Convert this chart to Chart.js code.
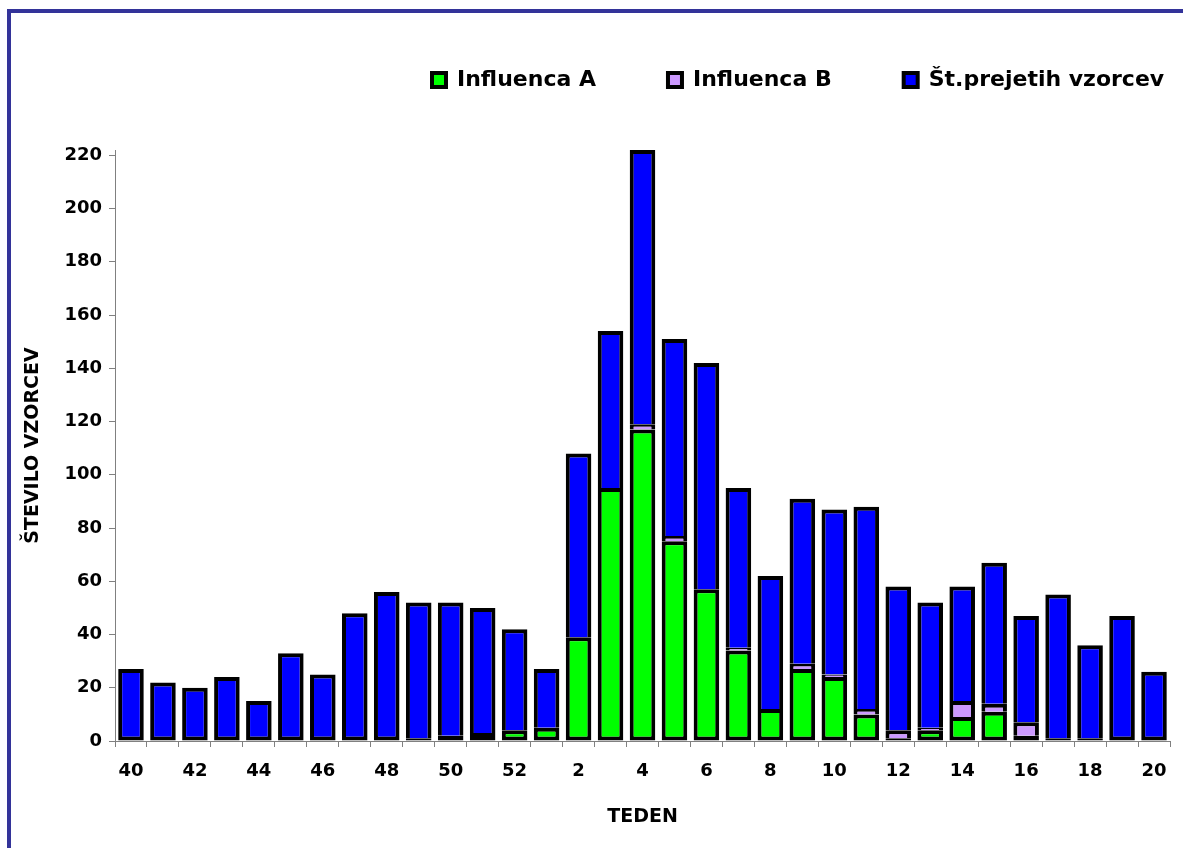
<!DOCTYPE html>
<html>
<head>
<meta charset="utf-8">
<script src="https://cdn.jsdelivr.net/npm/chart.js@4/dist/chart.umd.min.js"></script>
<style>
  html, body { margin: 0; padding: 0; background: #fff; overflow: hidden; }
  #frame { position: absolute; left: 7px; top: 9px; width: 1300px; height: 1000px;
           border-left: 4px solid #333399; border-top: 4px solid #333399; }
  #c { position: absolute; left: 0; top: 0; }
</style>
</head>
<body>
<div id="frame"></div>
<canvas id="c" width="1183" height="848"></canvas>
<script>
// ---- data ----
const weeks = [40,41,42,43,44,45,46,47,48,49,50,51,52,1,2,3,4,5,6,7,8,9,10,11,12,13,14,15,16,17,18,19,20];
const influencaA = [0,0,0,0,0,0,0,0,0,1,2,3,4,5,39,95,117,75,57,34,12,27,24,10,1,4,9,11,2,1,1,0,0];
const influencaB = [0,0,0,0,0,0,0,0,0,0,0,0,0,0,0,0,2,2,0,1,0,2,1,2,3,1,6,3,5,0,0,0,0];
const prejetiVzorci = [27,22,20,24,15,33,25,48,56,52,52,50,42,27,108,154,222,151,142,95,62,91,87,88,58,52,58,67,47,55,36,47,26];
const yTicks = [0,20,40,60,80,100,120,140,160,180,200,220];
const seriesNames = ['Influenca A','Influenca B','Št.prejetih vzorcev'];

// remaining part of the total stacked above A and B
const blueSegment = prejetiVzorci.map((t, i) => t - influencaA[i] - influencaB[i]);

const BW = 4;
function bw(below) {
  return function(ctx) {
    if (ctx.dataIndex === undefined) return BW;
    const i = ctx.dataIndex;
    const hasBelow = below.some(arr => arr[i] > 0);
    return {top: BW, left: BW, right: BW, bottom: hasBelow ? 0 : BW};
  };
}

const bold = '"DejaVu Sans", Verdana, sans-serif';
const LEG_PAD = 72;
const LEG_FONT = 22;

const legendMover = {
  id: 'legendMover',
  afterLayout(chart) {
    const lg = chart.legend;
    lg.left = 432 - LEG_PAD;
    lg.right = 1500;
    lg.top = 80 - LEG_FONT / 2 - LEG_PAD;
  }
};

new Chart(document.getElementById('c'), {
  type: 'bar',
  data: {
    labels: weeks.map(String),
    datasets: [
      { label: seriesNames[0], data: influencaA, backgroundColor: '#00FF00', borderColor: '#000',
        borderWidth: bw([]), borderSkipped: false },
      { label: seriesNames[1], data: influencaB, backgroundColor: '#CC99FF', borderColor: '#000',
        borderWidth: bw([influencaA]), borderSkipped: false },
      { label: seriesNames[2], data: blueSegment, backgroundColor: '#0000FF', borderColor: '#000',
        borderWidth: bw([influencaA, influencaB]), borderSkipped: false }
    ]
  },
  options: {
    responsive: false,
    animation: false,
    devicePixelRatio: 1,
    datasets: { bar: { categoryPercentage: 1.0, barPercentage: 0.8 } },
    layout: { padding: { top: 150 - (LEG_FONT + LEG_PAD + 10), right: 13, left: 0, bottom: 0 } },
    plugins: {
      tooltip: { enabled: false },
      legend: {
        position: 'top',
        align: 'start',
        labels: {
          color: '#000',
          font: { family: bold, size: LEG_FONT, weight: 'bold' },
          boxWidth: 14, boxHeight: 14, padding: LEG_PAD
        }
      }
    },
    scales: {
      x: {
        stacked: true,
        grid: { offset: true, drawOnChartArea: false, drawTicks: true, tickLength: 6, color: '#808080', tickColor: '#808080' },
        border: { color: '#808080', width: 1 },
        ticks: {
          autoSkip: false, maxRotation: 0, minRotation: 0, padding: 14, color: '#000',
          font: { family: bold, size: 18, weight: 'bold' },
          callback: (v, i) => (i % 2 === 0 ? String(weeks[i]) : '')
        },
        title: { display: true, text: 'TEDEN', color: '#000',
                 font: { family: bold, size: 19, weight: 'bold' }, padding: { top: 0, bottom: 19.5 } },
        afterFit: s => { s.height = 107; }
      },
      y: {
        stacked: true,
        min: 0, max: 222,
        grid: { drawOnChartArea: false, drawTicks: true, tickLength: 6, color: '#808080', tickColor: '#808080' },
        border: { color: '#808080', width: 1 },
        ticks: { stepSize: 20, padding: 7, color: '#000', font: { family: bold, size: 18, weight: 'bold' } },
        afterBuildTicks: s => { s.ticks = yTicks.map(v => ({ value: v })); },
        title: { display: true, text: 'ŠTEVILO VZORCEV', color: '#000',
                 font: { family: bold, size: 19, weight: 'bold' }, padding: { top: 21.5, bottom: 0 } },
        afterFit: s => { s.width = 115; }
      }
    }
  },
  plugins: [legendMover]
});
</script>
</body>
</html>
